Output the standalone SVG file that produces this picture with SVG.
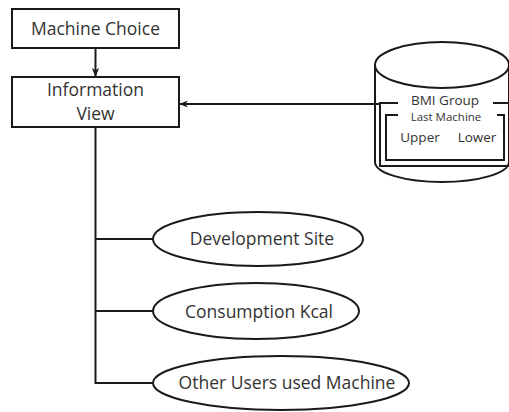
<svg xmlns="http://www.w3.org/2000/svg" width="509" height="412" viewBox="0 0 509 412">
<style>
.s{fill:#fff;stroke:#1a1a1a;stroke-width:2}
.l{fill:none;stroke:#1a1a1a;stroke-width:2}
.t{font-family:"Open Sans","Noto Sans","Liberation Sans",sans-serif;fill:#333;text-anchor:middle}
.m{font-size:17.5px}
.sm{font-size:13.5px}
.xs{font-size:11.5px}
</style>
<defs>
<marker id="ah" viewBox="0 0 10 10" refX="9" refY="5" markerWidth="9" markerHeight="9" markerUnits="userSpaceOnUse" orient="auto">
<path d="M0,1 L10,5 L0,9 L3,5 Z" fill="#1a1a1a"/>
</marker>
</defs>
<rect width="509" height="412" fill="#fff"/>
<g id="machine-choice">
<rect class="s" x="12" y="9" width="167" height="39"/>
<text class="t m" x="95.5" y="35">Machine Choice</text>
</g>
<g id="information-view">
<rect class="s" x="12" y="77" width="167" height="50"/>
<text class="t m" x="95.5" y="96">Information</text>
<text class="t m" x="95.5" y="120">View</text>
</g>
<g id="bmi-group">
<path class="s" d="M375,66 L375,162 A67,20 0 0 0 509,162 L509,66"/>
<ellipse class="s" cx="442" cy="65" rx="67" ry="23"/>
<path class="l" d="M398,103 L380,103 L380,166 L512,166"/>
<path class="l" d="M493,103 L512,103"/>
<path class="l" d="M398,115 L386,115 L386,160 L504,160 L504,115 L497,115"/>
<text class="t sm" x="445" y="104.5">BMI Group</text>
<text class="t xs" x="446" y="120.5">Last Machine</text>
<text class="t sm" x="420" y="142">Upper</text>
<text class="t sm" x="477" y="142">Lower</text>
</g>
<g id="development-site">
<ellipse class="s" cx="258" cy="239" rx="105" ry="27"/>
<text class="t m" x="262" y="245">Development Site</text>
</g>
<g id="consumption-kcal">
<ellipse class="s" cx="256" cy="311" rx="103" ry="28"/>
<text class="t m" x="259" y="318">Consumption Kcal</text>
</g>
<g id="other-users">
<ellipse class="s" cx="281" cy="383" rx="128" ry="27"/>
<text class="t m" x="287" y="389">Other Users used Machine</text>
</g>
<g id="connectors">
<line class="l" x1="95.5" y1="48" x2="95.5" y2="76" marker-end="url(#ah)"/>
<line class="l" x1="380" y1="104" x2="180" y2="104" marker-end="url(#ah)"/>
<path class="l" d="M95.5,127 L95.5,383 L153,383 M95.5,239 L153,239 M95.5,311 L153,311"/>
</g>
</svg>
